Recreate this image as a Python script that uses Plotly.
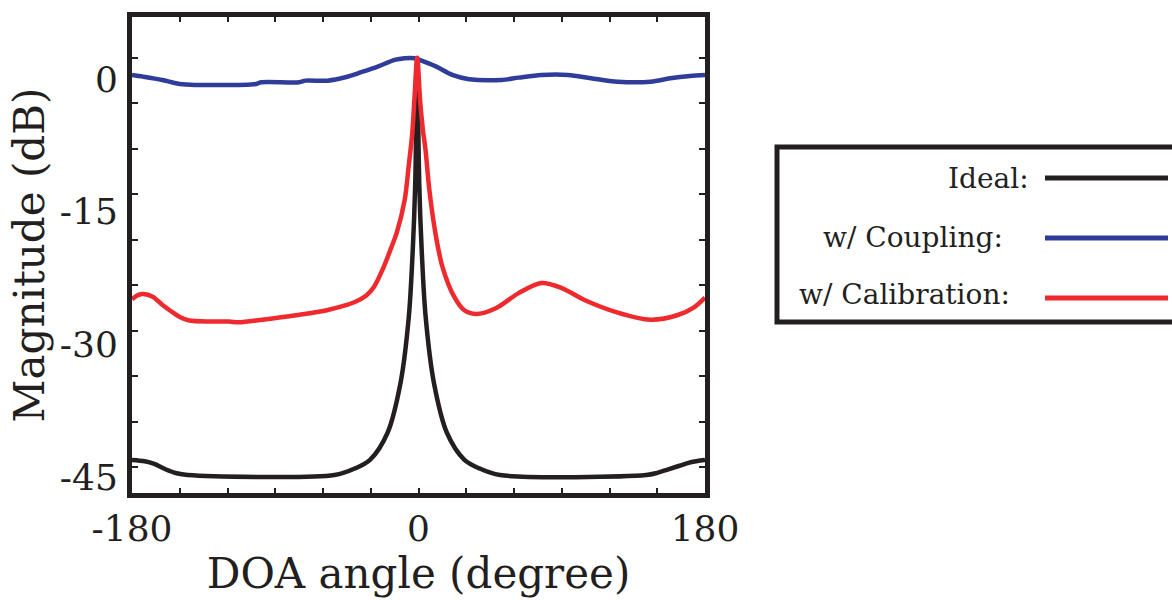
import plotly.graph_objects as go

# ---------------- data ----------------
ideal_deg = [-180, -172, -166, -159, -152, -145, -52.8, -39.8, -30.3, -19.5, -11.3, -6.1, -3.6, -2.05, -1.4,
             -0.8, -0.2, 0.45, 2.0, 4.5, 9.7, 17.9, 28.7, 38.2, 51.2, 143, 150, 157, 164, 171, 180]
ideal_db = [-43.05, -43.2, -43.5, -44.1, -44.55, -44.75, -44.75, -44.0, -43.0, -40.0, -34.35, -26.9, -19.3, -11.75, -4.3,
            2.3, -4.3, -11.75, -19.3, -26.9, -34.35, -40.0, -43.0, -44.0, -44.75, -44.75, -44.5, -44.1, -43.7, -43.3, -43.05]

coupling_deg = [-180, -173, -161, -150, -102, -99, -75, -71, -57, -46, -36, -25.6, -15, -8.7, -2.5, 0.6, 11.2,
                21.2, 31.8, 52.3, 62.9, 77.2, 94, 108.4, 125.2, 145.7, 158.2, 170.6, 180]
coupling_db = [0.45, 0.26, -0.11, -0.56, -0.56, -0.37, -0.37, -0.19, -0.19, 0.19, 0.76, 1.39, 2.15, 2.34, 2.34, 2.15, 1.39,
               0.45, -0.03, -0.11, 0.15, 0.45, 0.45, 0.08, -0.31, -0.31, 0.08, 0.34, 0.45]

calib_deg = [-180, -176, -173, -167, -161, -155, -150, -144, -130, -119, -113, -98, -77, -57, -40, -33, -28, -22, -17,
             -13.7, -8.7, -6.2, -3.9, -2.6, -0.8, 1.0, 2.6, 4.4, 6.8, 10.6, 15, 22.4, 28.6, 36.1, 48.6, 62.9, 77.2,
             89.7, 104.6, 125.2, 145.7, 162.5, 173.1, 180]
calib_db = [-24.9, -24.4, -24.3, -24.6, -25.5, -26.3, -26.9, -27.3, -27.4, -27.4, -27.5, -27.2, -26.7, -26.1, -25.2,
            -24.5, -23.5, -21.3, -19.0, -17.4, -13.7, -9.9, -6.1, -2.4, 2.4, -2.4, -5.5, -8.0, -12.5, -17.4, -21.2,
            -24.6, -26.1, -26.55, -25.9, -24.2, -23.05, -23.6, -25.0, -26.4, -27.2, -26.7, -25.8, -24.7]

x_tickvals = [-180, 0, 180]
x_ticktext = ["-180", "0", "180"]
y_tickvals = [0, -15, -30, -45]
y_ticktext = ["0", "-15", "-30", "-45"]

series_names = ["Ideal:", "w/ Coupling:", "w/ Calibration:"]
series_colors = ["#231F20", "#303C9A", "#EE2A2E"]

# ---------------- figure ----------------
W, H = 1172, 600
L, R, T, B = 132, 467, 17, 107
FONT = "DejaVu Serif"
INK = "#231F20"

fig = go.Figure()
for xs, ys, name, col in [(ideal_deg, ideal_db, series_names[0], series_colors[0]),
                          (coupling_deg, coupling_db, series_names[1], series_colors[1]),
                          (calib_deg, calib_db, series_names[2], series_colors[2])]:
    fig.add_trace(go.Scatter(x=xs, y=ys, mode="lines", name=name, showlegend=False,
                             line=dict(color=col, width=4.5, shape="spline", smoothing=0.9)))

fig.update_layout(
    width=W, height=H,
    margin=dict(l=L, r=R, t=T, b=B),
    paper_bgcolor="white", plot_bgcolor="white",
    font=dict(family=FONT, color=INK),
)

fig.update_xaxes(
    range=[-180, 180], showgrid=False, zeroline=False,
    showline=True, linewidth=5, linecolor=INK, mirror="ticks",
    tickmode="array", tickvals=x_tickvals, ticktext=x_ticktext,
    ticks="inside", ticklen=5, tickwidth=1.5, tickcolor=INK,
    minor=dict(ticks="inside", dtick=30, tick0=-180, ticklen=5, tickwidth=1.5, tickcolor=INK, showgrid=False),
    tickfont=dict(size=36, family=FONT, color=INK),
    title=dict(text="DOA angle (degree)", font=dict(size=42, family=FONT, color=INK), standoff=4),
)
fig.update_yaxes(
    range=[-46.78, 7.0], showgrid=False, zeroline=False,
    showline=True, linewidth=5, linecolor=INK, mirror="ticks",
    tickmode="array", tickvals=y_tickvals, ticktext=y_ticktext,
    ticks="",
    minor=dict(ticks="inside", tick0=2.37, dtick=5.135, ticklen=6, tickwidth=1.5, tickcolor=INK, showgrid=False),
    tickfont=dict(size=36, family=FONT, color=INK),
    ticklabelstandoff=2,
    title=dict(text="Magnitude (dB)", font=dict(size=42, family=FONT, color=INK), standoff=4),
)

# ---------------- custom legend (label left of line) ----------------
pw = W - L - R
ph = H - T - B
def px(xp):
    return (xp - L) / pw
def py(yp):
    return 1 - (yp - T) / ph

fig.add_shape(type="rect", xref="paper", yref="paper",
              x0=px(777), x1=px(1190), y0=py(322), y1=py(147),
              line=dict(color=INK, width=5), fillcolor="white", layer="above")

row_line_y = [178, 238, 298]
row_text_y = [178, 237, 294]
row_text_x = [1031, 1005, 1012]
for i, (name, col) in enumerate(zip(series_names, series_colors)):
    fig.add_shape(type="line", xref="paper", yref="paper",
                  x0=px(1045), x1=px(1168), y0=py(row_line_y[i]), y1=py(row_line_y[i]),
                  line=dict(color=col, width=5), layer="above")
    fig.add_annotation(xref="paper", yref="paper", x=px(row_text_x[i]), y=py(row_text_y[i]),
                       text=name, showarrow=False, xanchor="right", yanchor="middle",
                       font=dict(size=28, family=FONT, color=INK))

fig.write_html("out.html")
